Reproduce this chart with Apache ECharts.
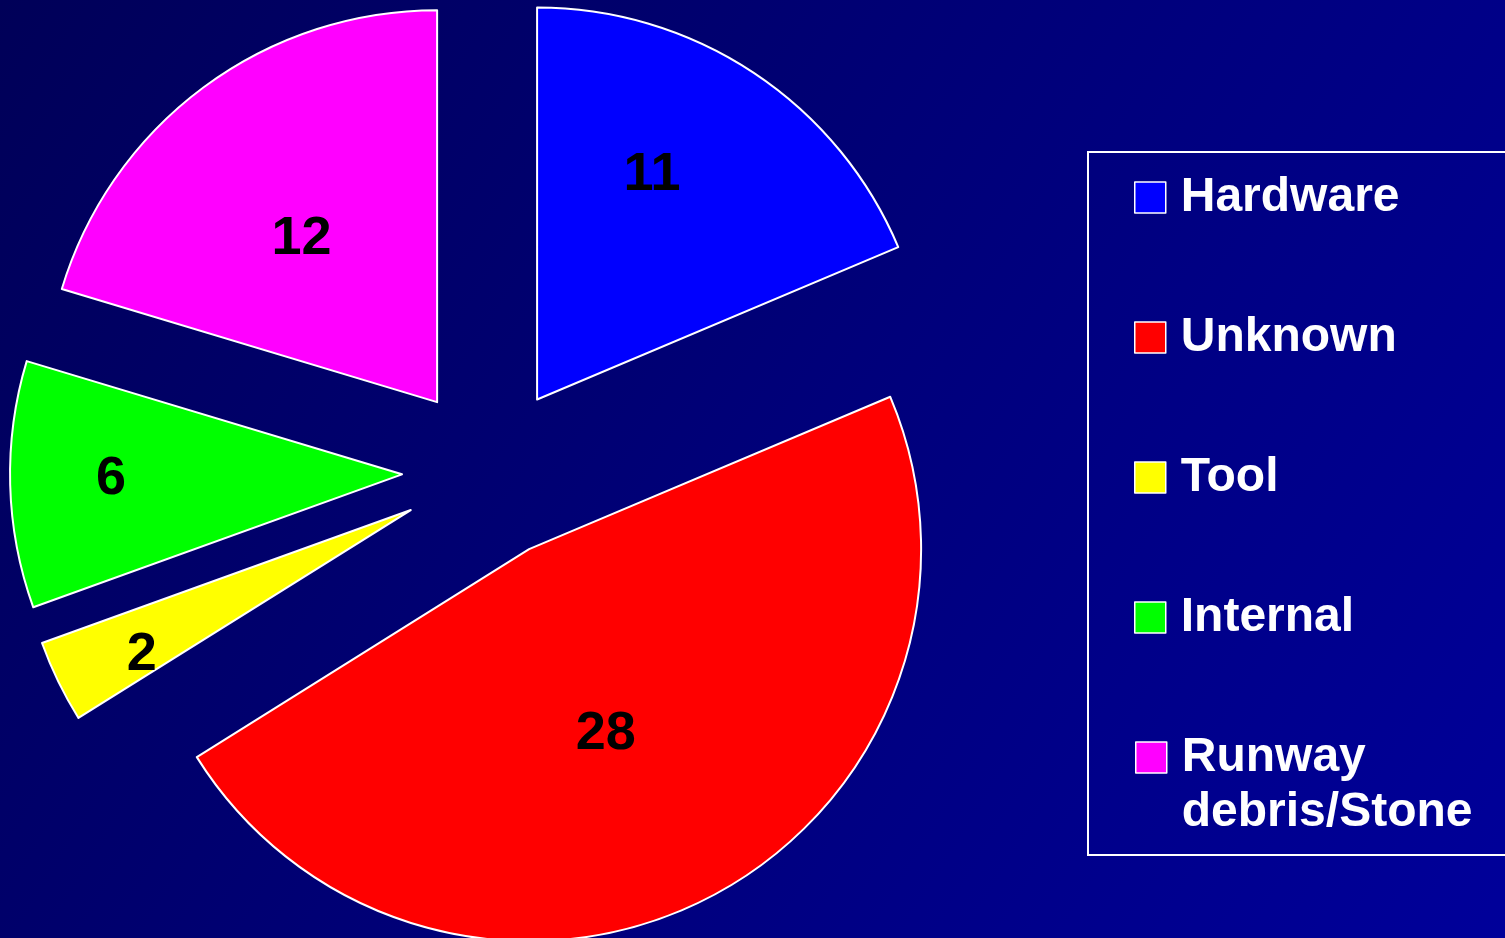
<!DOCTYPE html>
<html>
<head>
<meta charset="utf-8">
<script src="https://cdn.jsdelivr.net/npm/echarts@6/dist/echarts.min.js"></script>
<style>
  html, body { margin: 0; padding: 0; }
  #chart { width: 1505px; height: 938px; }
</style>
</head>
<body>
<div id="chart"></div>
<script>
// 数据
const categories = ["Hardware", "Unknown", "Tool", "Internal", "Runway debris/Stone"]
const counts = [11, 28, 2, 6, 12]
const colors = ["#0000ff", "#ff0000", "#ffff00", "#00ff00", "#ff00ff"]
// how far (px) each number sits from ECharts' default inside spot
const labelShift = [[5, -59], [-15, 8], [-90, 58], [-92, -1], [-17, -3]]

const font = "'Liberation Sans', Arial, sans-serif"
const chart = echarts.init(document.getElementById("chart"))

const pieData = categories.map((name, i) => ({
	name,
	value: counts[i],
	selected: true,
	itemStyle: { color: colors[i] }
}))

const legendText = {
	color: "#fff",
	fontFamily: font,
	fontWeight: "bold",
	fontSize: 48,
	lineHeight: 55,
	padding: [0, 0, 0, 10]
}

chart.setOption({
	animation: false,
	backgroundColor: {
		type: "linear", x: 0, y: 0, x2: 1, y2: 1,
		colorStops: [
			{ offset: 0, color: "#000058" },
			{ offset: 1, color: "#00009a" }
		]
	},
	legend: [
		{
			orient: "vertical",
			left: 1088,
			top: 152,
			data: categories.slice(0, 4),
			itemWidth: 31,
			itemHeight: 31,
			itemGap: 85,
			icon: "rect",
			padding: [18, 150, 210, 46],
			borderColor: "#fff",
			borderWidth: 2,
			itemStyle: { borderColor: "#fff", borderWidth: 1.5 },
			textStyle: legendText,
			selectedMode: false
		},
		{
			orient: "vertical",
			left: 1135,
			top: 675,
			padding: 0,
			data: categories.slice(4),
			itemWidth: 31,
			itemHeight: 31,
			icon: "rect",
			itemStyle: { borderColor: "#fff", borderWidth: 1.5 },
			// blank first line keeps "Runway" level with the swatch
			formatter: (name) => "\n" + name.replace(" ", "\n"),
			textStyle: legendText,
			selectedMode: false
		}
	],
	series: [
		{
			type: "pie",
			center: [489, 472],
			radius: 392,
			startAngle: 90,
			clockwise: true,
			selectedMode: "multiple",
			selectedOffset: 87,
			avoidLabelOverlap: false,
			data: pieData,
			itemStyle: { borderColor: "#fff", borderWidth: 2 },
			label: {
				show: true,
				position: "inside",
				formatter: "{c}",
				color: "#000",
				fontFamily: font,
				fontWeight: "bold",
				fontSize: 54
			},
			labelLayout: (p) => ({ dx: labelShift[p.dataIndex][0], dy: labelShift[p.dataIndex][1] }),
			labelLine: { show: false },
			emphasis: { disabled: true },
			select: {
				itemStyle: { borderColor: "#fff", borderWidth: 2 },
				label: { color: "#000" }
			}
		}
	]
})
</script>
</body>
</html>
